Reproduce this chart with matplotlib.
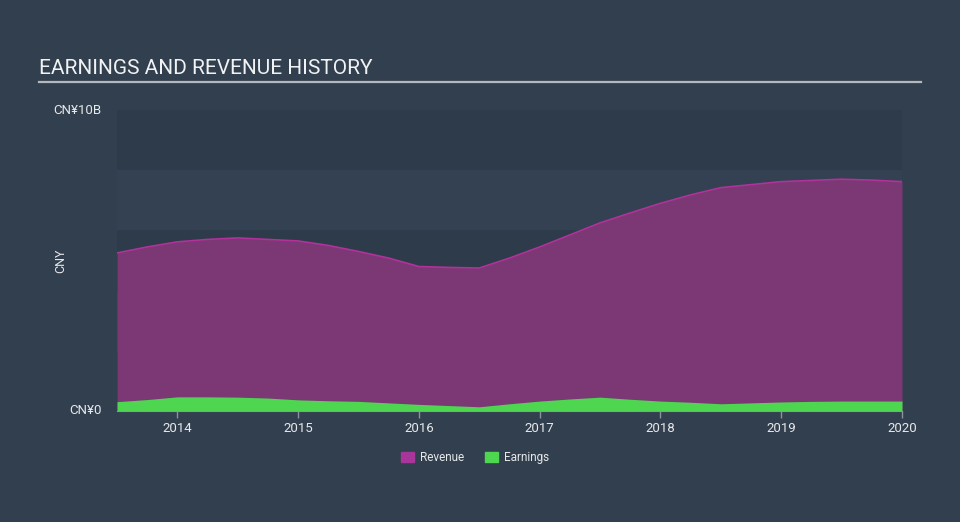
import matplotlib.pyplot as plt
import matplotlib.patches as mpatches

plt.rcParams['font.family'] = ['Roboto', 'DejaVu Sans']

# quarterly points, decimal years
years = [2013.5, 2013.75, 2014.0, 2014.25, 2014.5, 2014.75, 2015.0, 2015.25, 2015.5,
         2015.75, 2016.0, 2016.25, 2016.5, 2016.75, 2017.0, 2017.25, 2017.5, 2017.75,
         2018.0, 2018.25, 2018.5, 2018.75, 2019.0, 2019.25, 2019.5, 2019.75, 2020.0]
# values in CN¥ billions
revenue = [5.25, 5.45, 5.62, 5.70, 5.75, 5.70, 5.65, 5.50, 5.30,
           5.08, 4.80, 4.77, 4.75, 5.08, 5.45, 5.85, 6.25, 6.58,
           6.90, 7.18, 7.42, 7.52, 7.62, 7.66, 7.70, 7.67, 7.62]
earnings = [0.31, 0.38, 0.47, 0.47, 0.46, 0.43, 0.37, 0.34, 0.32,
            0.27, 0.22, 0.18, 0.14, 0.24, 0.33, 0.40, 0.46, 0.39,
            0.33, 0.29, 0.24, 0.27, 0.30, 0.32, 0.33, 0.33, 0.33]
tick_years = [2014, 2015, 2016, 2017, 2018, 2019, 2020]

BG = '#323f4e'
fig = plt.figure(figsize=(9.6, 5.22), dpi=100, facecolor=BG)
ax = fig.add_axes([117 / 960, 1 - 411 / 522, 785 / 960, 301 / 522])
ax.set_facecolor(BG)

# alternating horizontal bands
for i, lo in enumerate(range(0, 10, 2)):
    ax.axhspan(lo, lo + 2, color='#2e3b4a' if i % 2 == 0 else '#334152', lw=0, zorder=0)

ax.fill_between(years, 0, revenue, color='#7b3874', lw=0, zorder=2)
ax.plot(years, revenue, color='#b2329b', lw=1.2, zorder=3)
ax.fill_between(years, 0, earnings, color='#4fd651', lw=0, zorder=4)

ax.set_xlim(years[0], years[-1])
ax.set_ylim(0, 10)

for s in ['top', 'right', 'left']:
    ax.spines[s].set_visible(False)
ax.spines['bottom'].set_color('#8a929c')
ax.spines['bottom'].set_linewidth(0.8)

ax.set_xticks(tick_years)
ax.set_xticklabels([str(y) for y in tick_years])
ax.tick_params(axis='x', colors='#8a929c', labelcolor='#e6e8ea', length=5, width=1,
               labelsize=9.5, pad=3)
ax.set_yticks([0, 10])
ax.set_yticklabels(['CN¥0', 'CN¥10B'])
ax.tick_params(axis='y', length=0, labelcolor='#e6e8ea', labelsize=9.5, pad=11)
for lbl in ax.get_yticklabels():
    lbl.set_verticalalignment('center')
ax.set_ylabel('CNY', color='#e6e8ea', fontsize=9)
ax.yaxis.set_label_coords(-0.063, 0.5)

fig.text(39 / 960, 1 - 68 / 522, 'EARNINGS AND REVENUE HISTORY', color='#f0f2f4',
         fontsize=15, ha='left', va='center')
fig.add_artist(plt.Line2D([39 / 960, 921 / 960], [1 - 82 / 522, 1 - 82 / 522],
                          color='#b4b8bd', lw=1.6))

handles = [mpatches.Patch(color='#a8359a', label='Revenue'),
           mpatches.Patch(color='#4fd651', label='Earnings')]
ax.legend(handles=handles, loc='center', bbox_to_anchor=(0.456, -0.155), ncol=2,
          frameon=False, fontsize=8.5, labelcolor='#e6e8ea', handlelength=1.1,
          handleheight=0.9, columnspacing=1.8, handletextpad=0.5)

fig.savefig('out.png', dpi=100, facecolor=BG)
